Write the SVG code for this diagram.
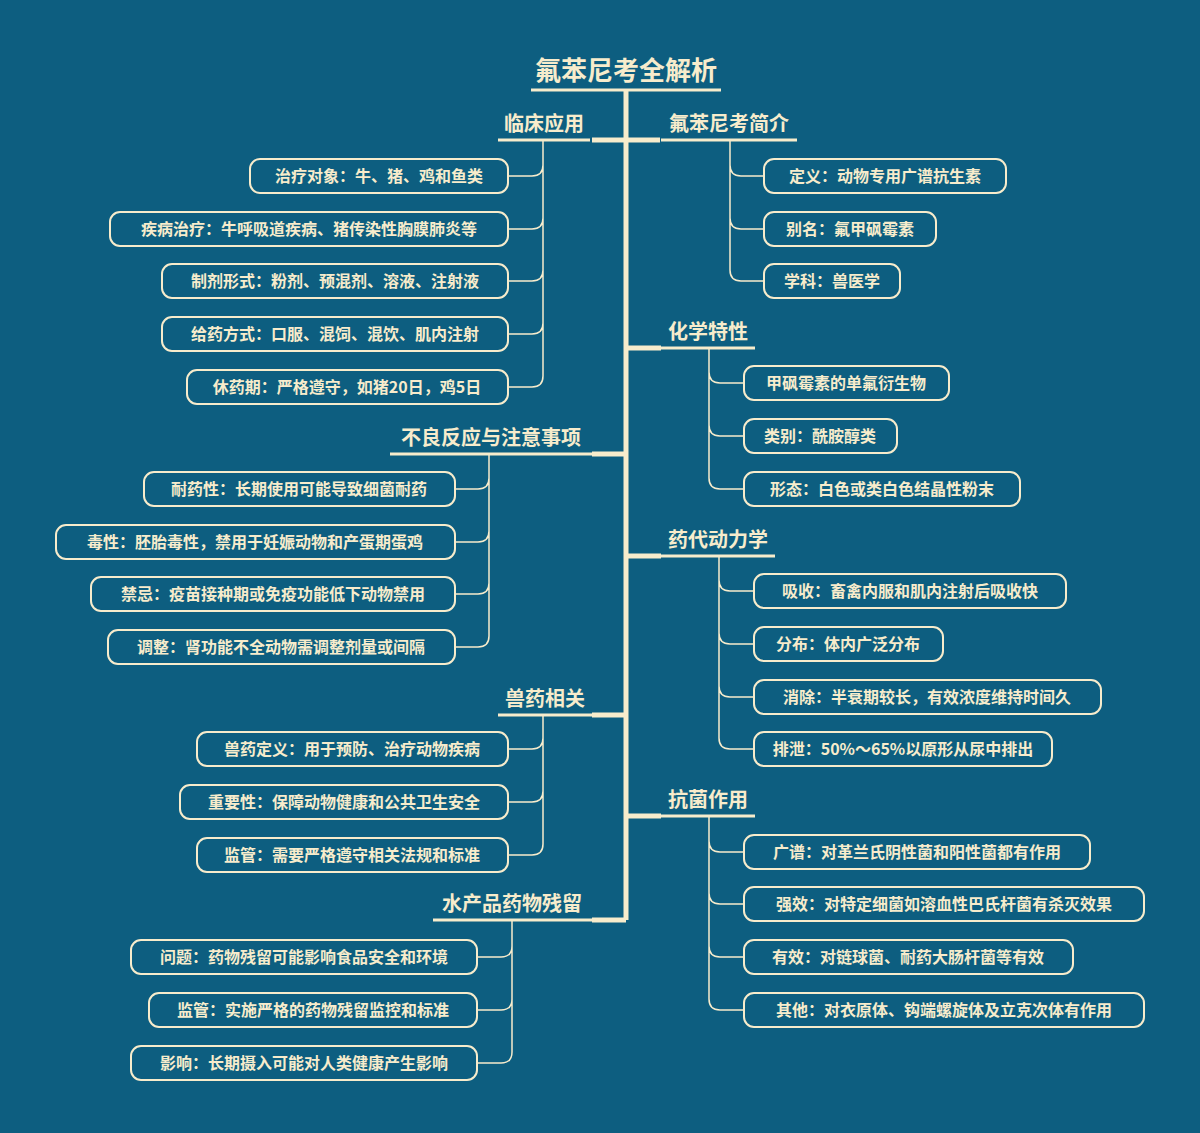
<svg xmlns="http://www.w3.org/2000/svg" width="1200" height="1133" viewBox="0 0 1200 1133">
<style>
.bg{fill:#0d5e80}
.t{fill:#f7eccc;font-family:"Noto Sans CJK SC","Liberation Serif",serif;font-weight:bold}
.title{font-size:26px}
.topic{font-size:20px}
.item{font-size:16px}
.box{fill:#0d5e80;stroke:#f7eccc;stroke-width:2}
.ul{stroke:#f7eccc;stroke-width:3;fill:none}
.trunk{stroke:#f7eccc;stroke-width:5;fill:none}
.c{stroke:#f7eccc;stroke-width:1.5;fill:none}
</style>
<rect class="bg" width="1200" height="1133"/>
<g id="connectors">
<path class="trunk" d="M626 90V920"/>
<path class="trunk" d="M592 140H660M626 348Q626 348 661 348M592 454H626M626 556H661M592 715H626M626 816H661M592 920H626"/>
<path class="c" d="M543 140V376Q543 387 532 387H508M543 165Q543 176 532 176H508M543 218Q543 229 532 229H508M543 270Q543 281 532 281H508M543 323Q543 334 532 334H508"/>
<path class="c" d="M489 454V636Q489 647 478 647H455M489 478Q489 489 478 489H455M489 531Q489 542 478 542H455M489 583Q489 594 478 594H455"/>
<path class="c" d="M543 715V844Q543 855 532 855H508M543 738Q543 749 532 749H508M543 791Q543 802 532 802H508"/>
<path class="c" d="M512 920V1052Q512 1063 501 1063H477M512 946Q512 957 501 957H477M512 999Q512 1010 501 1010H477"/>
<path class="c" d="M730 140V270Q730 281 741 281H764M730 165Q730 176 741 176H764M730 218Q730 229 741 229H764"/>
<path class="c" d="M709 348V478Q709 489 720 489H744M709 372Q709 383 720 383H744M709 425Q709 436 720 436H744"/>
<path class="c" d="M719 556V738Q719 749 730 749H754M719 580Q719 591 730 591H754M719 633Q719 644 730 644H754M719 686Q719 697 730 697H754"/>
<path class="c" d="M709 816V999Q709 1010 720 1010H744M709 841Q709 852 720 852H744M709 893Q709 904 720 904H744M709 946Q709 957 720 957H744"/>
</g>
<g id="root"><path class="ul" d="M531 90H721"/><text class="t title" x="626" y="80" text-anchor="middle">氟苯尼考全解析</text></g>
<g id="b1"><path class="ul" d="M498 140H590"/><text class="t topic" x="544" y="131" text-anchor="middle">临床应用</text></g>
<g id="b2"><path class="ul" d="M390 454H592"/><text class="t topic" x="491" y="445" text-anchor="middle">不良反应与注意事项</text></g>
<g id="b3"><path class="ul" d="M498 715H592"/><text class="t topic" x="545" y="706" text-anchor="middle">兽药相关</text></g>
<g id="b4"><path class="ul" d="M433 920H592"/><text class="t topic" x="512" y="911" text-anchor="middle">水产品药物残留</text></g>
<g id="b5"><path class="ul" d="M661 140H797"/><text class="t topic" x="729" y="131" text-anchor="middle">氟苯尼考简介</text></g>
<g id="b6"><path class="ul" d="M661 348H755"/><text class="t topic" x="708" y="339" text-anchor="middle">化学特性</text></g>
<g id="b7"><path class="ul" d="M661 556H775"/><text class="t topic" x="718" y="547" text-anchor="middle">药代动力学</text></g>
<g id="b8"><path class="ul" d="M661 816H755"/><text class="t topic" x="708" y="807" text-anchor="middle">抗菌作用</text></g>
<g id="n1"><rect class="box" x="250" y="159" width="258" height="34" rx="10"/><text class="t item" x="379" y="182" text-anchor="middle">治疗对象：牛、猪、鸡和鱼类</text></g>
<g id="n2"><rect class="box" x="110" y="212" width="398" height="34" rx="10"/><text class="t item" x="309" y="235" text-anchor="middle">疾病治疗：牛呼吸道疾病、猪传染性胸膜肺炎等</text></g>
<g id="n3"><rect class="box" x="162" y="264" width="346" height="34" rx="10"/><text class="t item" x="335" y="287" text-anchor="middle">制剂形式：粉剂、预混剂、溶液、注射液</text></g>
<g id="n4"><rect class="box" x="162" y="317" width="346" height="34" rx="10"/><text class="t item" x="335" y="340" text-anchor="middle">给药方式：口服、混饲、混饮、肌内注射</text></g>
<g id="n5"><rect class="box" x="187" y="370" width="321" height="34" rx="10"/><text class="t item" x="347" y="393" text-anchor="middle">休药期：严格遵守，如猪20日，鸡5日</text></g>
<g id="n6"><rect class="box" x="144" y="472" width="311" height="34" rx="10"/><text class="t item" x="299" y="495" text-anchor="middle">耐药性：长期使用可能导致细菌耐药</text></g>
<g id="n7"><rect class="box" x="56" y="525" width="399" height="34" rx="10"/><text class="t item" x="255" y="548" text-anchor="middle">毒性：胚胎毒性，禁用于妊娠动物和产蛋期蛋鸡</text></g>
<g id="n8"><rect class="box" x="91" y="577" width="364" height="34" rx="10"/><text class="t item" x="273" y="600" text-anchor="middle">禁忌：疫苗接种期或免疫功能低下动物禁用</text></g>
<g id="n9"><rect class="box" x="108" y="630" width="347" height="34" rx="10"/><text class="t item" x="281" y="653" text-anchor="middle">调整：肾功能不全动物需调整剂量或间隔</text></g>
<g id="n10"><rect class="box" x="197" y="732" width="311" height="34" rx="10"/><text class="t item" x="352" y="755" text-anchor="middle">兽药定义：用于预防、治疗动物疾病</text></g>
<g id="n11"><rect class="box" x="180" y="785" width="328" height="34" rx="10"/><text class="t item" x="344" y="808" text-anchor="middle">重要性：保障动物健康和公共卫生安全</text></g>
<g id="n12"><rect class="box" x="197" y="838" width="311" height="34" rx="10"/><text class="t item" x="352" y="861" text-anchor="middle">监管：需要严格遵守相关法规和标准</text></g>
<g id="n13"><rect class="box" x="131" y="940" width="346" height="34" rx="10"/><text class="t item" x="304" y="963" text-anchor="middle">问题：药物残留可能影响食品安全和环境</text></g>
<g id="n14"><rect class="box" x="149" y="993" width="328" height="34" rx="10"/><text class="t item" x="313" y="1016" text-anchor="middle">监管：实施严格的药物残留监控和标准</text></g>
<g id="n15"><rect class="box" x="131" y="1046" width="346" height="34" rx="10"/><text class="t item" x="304" y="1069" text-anchor="middle">影响：长期摄入可能对人类健康产生影响</text></g>
<g id="n16"><rect class="box" x="764" y="159" width="242" height="34" rx="10"/><text class="t item" x="885" y="182" text-anchor="middle">定义：动物专用广谱抗生素</text></g>
<g id="n17"><rect class="box" x="764" y="212" width="172" height="34" rx="10"/><text class="t item" x="850" y="235" text-anchor="middle">别名：氟甲砜霉素</text></g>
<g id="n18"><rect class="box" x="764" y="264" width="136" height="34" rx="10"/><text class="t item" x="832" y="287" text-anchor="middle">学科：兽医学</text></g>
<g id="n19"><rect class="box" x="744" y="366" width="205" height="34" rx="10"/><text class="t item" x="846" y="389" text-anchor="middle">甲砜霉素的单氟衍生物</text></g>
<g id="n20"><rect class="box" x="744" y="419" width="153" height="34" rx="10"/><text class="t item" x="820" y="442" text-anchor="middle">类别：酰胺醇类</text></g>
<g id="n21"><rect class="box" x="744" y="472" width="276" height="34" rx="10"/><text class="t item" x="882" y="495" text-anchor="middle">形态：白色或类白色结晶性粉末</text></g>
<g id="n22"><rect class="box" x="754" y="574" width="312" height="34" rx="10"/><text class="t item" x="910" y="597" text-anchor="middle">吸收：畜禽内服和肌内注射后吸收快</text></g>
<g id="n23"><rect class="box" x="754" y="627" width="189" height="34" rx="10"/><text class="t item" x="848" y="650" text-anchor="middle">分布：体内广泛分布</text></g>
<g id="n24"><rect class="box" x="754" y="680" width="347" height="34" rx="10"/><text class="t item" x="927" y="703" text-anchor="middle">消除：半衰期较长，有效浓度维持时间久</text></g>
<g id="n25"><rect class="box" x="754" y="732" width="298" height="34" rx="10"/><text class="t item" x="903" y="755" text-anchor="middle">排泄：50%～65%以原形从尿中排出</text></g>
<g id="n26"><rect class="box" x="744" y="835" width="346" height="34" rx="10"/><text class="t item" x="917" y="858" text-anchor="middle">广谱：对革兰氏阴性菌和阳性菌都有作用</text></g>
<g id="n27"><rect class="box" x="744" y="887" width="400" height="34" rx="10"/><text class="t item" x="944" y="910" text-anchor="middle">强效：对特定细菌如溶血性巴氏杆菌有杀灭效果</text></g>
<g id="n28"><rect class="box" x="744" y="940" width="329" height="34" rx="10"/><text class="t item" x="908" y="963" text-anchor="middle">有效：对链球菌、耐药大肠杆菌等有效</text></g>
<g id="n29"><rect class="box" x="744" y="993" width="400" height="34" rx="10"/><text class="t item" x="944" y="1016" text-anchor="middle">其他：对衣原体、钩端螺旋体及立克次体有作用</text></g>
</svg>
